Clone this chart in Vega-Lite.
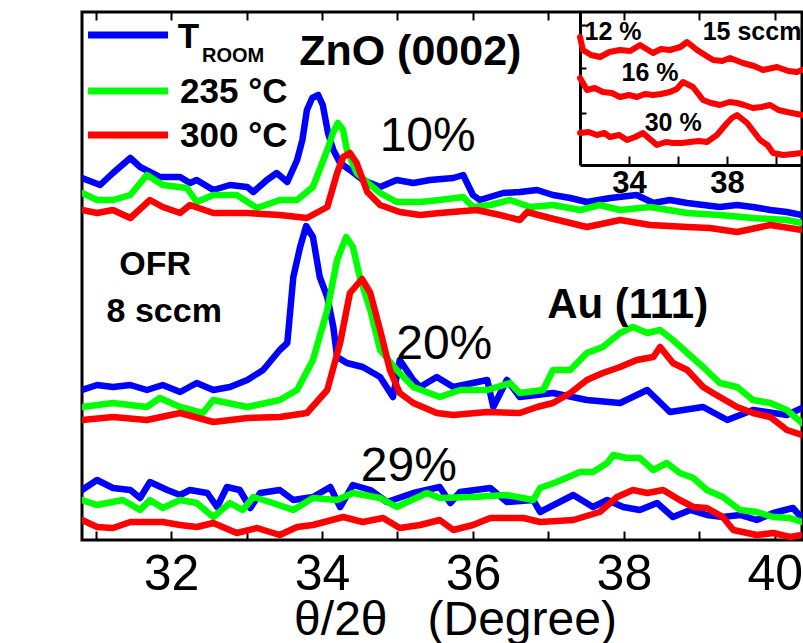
{
"$schema":"https://vega.github.io/schema/vega-lite/v6.json",
"width":720,"height":528,"autosize":"none",
"padding":{"left":82,"top":12,"right":1,"bottom":103},
"background":"white",
"config":{"view":{"stroke":"black","strokeWidth":3},"font":"Liberation Sans","text":{"color":"black","font":"Liberation Sans"}},
"datasets":{
"rt":[
{"g":"10","x":30.82,"y":362},{"g":"10","x":31.06,"y":355},{"g":"10","x":31.23,"y":367},{"g":"10","x":31.46,"y":382},{"g":"10","x":31.59,"y":373},{"g":"10","x":31.85,"y":363},{"g":"10","x":32.12,"y":363},{"g":"10","x":32.25,"y":357},{"g":"10","x":32.34,"y":360},{"g":"10","x":32.56,"y":350},{"g":"10","x":32.78,"y":355},{"g":"10","x":33.01,"y":353},{"g":"10","x":33.09,"y":348},{"g":"10","x":33.27,"y":360},{"g":"10","x":33.40,"y":367},{"g":"10","x":33.54,"y":358},{"g":"10","x":33.67,"y":380},{"g":"10","x":33.74,"y":400},{"g":"10","x":33.80,"y":430},{"g":"10","x":33.87,"y":442},{"g":"10","x":33.95,"y":445},{"g":"10","x":34.01,"y":435},{"g":"10","x":34.08,"y":407},{"g":"10","x":34.15,"y":390},{"g":"10","x":34.24,"y":377},{"g":"10","x":34.37,"y":370},{"g":"10","x":34.54,"y":360},{"g":"10","x":34.77,"y":353},{"g":"10","x":34.99,"y":360},{"g":"10","x":35.21,"y":357},{"g":"10","x":35.43,"y":360},{"g":"10","x":35.74,"y":362},{"g":"10","x":35.87,"y":365},{"g":"10","x":36.00,"y":345},{"g":"10","x":36.09,"y":340},{"g":"10","x":36.40,"y":347},{"g":"10","x":36.62,"y":348},{"g":"10","x":36.85,"y":350},{"g":"10","x":37.06,"y":345},{"g":"10","x":37.29,"y":342},{"g":"10","x":37.51,"y":338},{"g":"10","x":37.82,"y":342},{"g":"10","x":38.17,"y":345},{"g":"10","x":38.39,"y":337},{"g":"10","x":38.61,"y":340},{"g":"10","x":38.84,"y":337},{"g":"10","x":39.27,"y":333},{"g":"10","x":39.50,"y":335},{"g":"10","x":39.71,"y":333},{"g":"10","x":39.94,"y":330},{"g":"10","x":40.16,"y":328},{"g":"10","x":40.36,"y":325},
{"g":"20","x":30.82,"y":150},{"g":"20","x":31.02,"y":155},{"g":"20","x":31.23,"y":153},{"g":"20","x":31.46,"y":155},{"g":"20","x":31.68,"y":150},{"g":"20","x":31.89,"y":155},{"g":"20","x":32.12,"y":148},{"g":"20","x":32.34,"y":157},{"g":"20","x":32.56,"y":150},{"g":"20","x":32.78,"y":153},{"g":"20","x":33.01,"y":160},{"g":"20","x":33.22,"y":170},{"g":"20","x":33.44,"y":190},{"g":"20","x":33.54,"y":197},{"g":"20","x":33.62,"y":263},{"g":"20","x":33.71,"y":293},{"g":"20","x":33.79,"y":314},{"g":"20","x":33.88,"y":303},{"g":"20","x":33.97,"y":263},{"g":"20","x":34.07,"y":243},{"g":"20","x":34.15,"y":213},{"g":"20","x":34.20,"y":183},{"g":"20","x":34.33,"y":177},{"g":"20","x":34.54,"y":173},{"g":"20","x":34.77,"y":163},{"g":"20","x":34.94,"y":143},{"g":"20","x":35.03,"y":180},{"g":"20","x":35.21,"y":160},{"g":"20","x":35.30,"y":153},{"g":"20","x":35.52,"y":163},{"g":"20","x":35.74,"y":153},{"g":"20","x":36.19,"y":160},{"g":"20","x":36.27,"y":133},{"g":"20","x":36.45,"y":160},{"g":"20","x":36.62,"y":143},{"g":"20","x":37.06,"y":147},{"g":"20","x":37.51,"y":140},{"g":"20","x":37.95,"y":137},{"g":"20","x":38.31,"y":150},{"g":"20","x":38.61,"y":128},{"g":"20","x":39.05,"y":133},{"g":"20","x":39.37,"y":120},{"g":"20","x":39.71,"y":130},{"g":"20","x":40.16,"y":125},{"g":"20","x":40.36,"y":132},
{"g":"29","x":30.82,"y":50},{"g":"29","x":31.02,"y":60},{"g":"29","x":31.23,"y":52},{"g":"29","x":31.46,"y":50},{"g":"29","x":31.59,"y":42},{"g":"29","x":31.72,"y":58},{"g":"29","x":31.95,"y":50},{"g":"29","x":32.12,"y":45},{"g":"29","x":32.25,"y":50},{"g":"29","x":32.48,"y":47},{"g":"29","x":32.61,"y":33},{"g":"29","x":32.74,"y":53},{"g":"29","x":32.91,"y":50},{"g":"29","x":33.05,"y":32},{"g":"29","x":33.18,"y":47},{"g":"29","x":33.44,"y":50},{"g":"29","x":33.62,"y":40},{"g":"29","x":33.88,"y":43},{"g":"29","x":34.11,"y":53},{"g":"29","x":34.24,"y":33},{"g":"29","x":34.41,"y":55},{"g":"29","x":34.64,"y":50},{"g":"29","x":34.86,"y":38},{"g":"29","x":35.21,"y":47},{"g":"29","x":35.56,"y":53},{"g":"29","x":35.70,"y":37},{"g":"29","x":35.83,"y":48},{"g":"29","x":36.23,"y":52},{"g":"29","x":36.45,"y":38},{"g":"29","x":36.80,"y":40},{"g":"29","x":36.89,"y":28},{"g":"29","x":37.33,"y":45},{"g":"29","x":37.59,"y":33},{"g":"29","x":37.78,"y":40},{"g":"29","x":37.99,"y":33},{"g":"29","x":38.21,"y":30},{"g":"29","x":38.44,"y":37},{"g":"29","x":38.65,"y":23},{"g":"29","x":38.88,"y":30},{"g":"29","x":39.10,"y":25},{"g":"29","x":39.31,"y":23},{"g":"29","x":39.54,"y":25},{"g":"29","x":39.76,"y":20},{"g":"29","x":39.98,"y":27},{"g":"29","x":40.24,"y":32},{"g":"29","x":40.36,"y":22}
],
"t235":[
{"g":"10","x":30.82,"y":347},{"g":"10","x":31.02,"y":340},{"g":"10","x":31.23,"y":340},{"g":"10","x":31.46,"y":345},{"g":"10","x":31.68,"y":365},{"g":"10","x":31.89,"y":355},{"g":"10","x":32.21,"y":352},{"g":"10","x":32.34,"y":338},{"g":"10","x":32.56,"y":345},{"g":"10","x":32.87,"y":345},{"g":"10","x":33.14,"y":332},{"g":"10","x":33.44,"y":340},{"g":"10","x":33.67,"y":340},{"g":"10","x":33.88,"y":353},{"g":"10","x":34.07,"y":390},{"g":"10","x":34.15,"y":408},{"g":"10","x":34.21,"y":417},{"g":"10","x":34.28,"y":410},{"g":"10","x":34.33,"y":390},{"g":"10","x":34.46,"y":367},{"g":"10","x":34.64,"y":355},{"g":"10","x":34.77,"y":347},{"g":"10","x":34.99,"y":338},{"g":"10","x":35.30,"y":338},{"g":"10","x":35.56,"y":340},{"g":"10","x":35.87,"y":343},{"g":"10","x":36.00,"y":333},{"g":"10","x":36.23,"y":335},{"g":"10","x":36.49,"y":340},{"g":"10","x":36.76,"y":333},{"g":"10","x":37.06,"y":335},{"g":"10","x":37.42,"y":330},{"g":"10","x":37.68,"y":335},{"g":"10","x":37.95,"y":330},{"g":"10","x":38.35,"y":333},{"g":"10","x":38.84,"y":327},{"g":"10","x":39.27,"y":325},{"g":"10","x":39.71,"y":322},{"g":"10","x":40.16,"y":320},{"g":"10","x":40.36,"y":317},
{"g":"20","x":30.82,"y":133},{"g":"20","x":31.23,"y":137},{"g":"20","x":31.68,"y":133},{"g":"20","x":31.85,"y":142},{"g":"20","x":32.12,"y":133},{"g":"20","x":32.42,"y":127},{"g":"20","x":32.56,"y":140},{"g":"20","x":33.01,"y":133},{"g":"20","x":33.44,"y":140},{"g":"20","x":33.67,"y":150},{"g":"20","x":33.88,"y":180},{"g":"20","x":34.07,"y":230},{"g":"20","x":34.20,"y":280},{"g":"20","x":34.32,"y":303},{"g":"20","x":34.41,"y":293},{"g":"20","x":34.50,"y":263},{"g":"20","x":34.64,"y":230},{"g":"20","x":34.77,"y":190},{"g":"20","x":34.99,"y":170},{"g":"20","x":35.21,"y":153},{"g":"20","x":35.56,"y":143},{"g":"20","x":35.83,"y":150},{"g":"20","x":36.19,"y":150},{"g":"20","x":36.49,"y":157},{"g":"20","x":36.62,"y":147},{"g":"20","x":36.93,"y":150},{"g":"20","x":37.06,"y":170},{"g":"20","x":37.29,"y":170},{"g":"20","x":37.51,"y":187},{"g":"20","x":37.72,"y":193},{"g":"20","x":37.95,"y":207},{"g":"20","x":38.12,"y":213},{"g":"20","x":38.31,"y":207},{"g":"20","x":38.48,"y":210},{"g":"20","x":38.65,"y":200},{"g":"20","x":38.84,"y":187},{"g":"20","x":39.05,"y":173},{"g":"20","x":39.27,"y":157},{"g":"20","x":39.50,"y":153},{"g":"20","x":39.71,"y":140},{"g":"20","x":39.94,"y":137},{"g":"20","x":40.16,"y":130},{"g":"20","x":40.36,"y":117},
{"g":"29","x":30.82,"y":40},{"g":"29","x":31.02,"y":35},{"g":"29","x":31.36,"y":40},{"g":"29","x":31.59,"y":30},{"g":"29","x":31.72,"y":40},{"g":"29","x":31.89,"y":32},{"g":"29","x":32.12,"y":40},{"g":"29","x":32.34,"y":37},{"g":"29","x":32.56,"y":23},{"g":"29","x":32.78,"y":37},{"g":"29","x":32.95,"y":30},{"g":"29","x":33.09,"y":43},{"g":"29","x":33.35,"y":37},{"g":"29","x":33.62,"y":30},{"g":"29","x":33.88,"y":42},{"g":"29","x":34.20,"y":40},{"g":"29","x":34.41,"y":47},{"g":"29","x":34.77,"y":42},{"g":"29","x":34.99,"y":33},{"g":"29","x":35.39,"y":47},{"g":"29","x":35.56,"y":42},{"g":"29","x":36.00,"y":43},{"g":"29","x":36.45,"y":45},{"g":"29","x":36.80,"y":40},{"g":"29","x":36.89,"y":52},{"g":"29","x":37.11,"y":58},{"g":"29","x":37.42,"y":68},{"g":"29","x":37.59,"y":68},{"g":"29","x":37.78,"y":77},{"g":"29","x":37.86,"y":85},{"g":"29","x":38.04,"y":82},{"g":"29","x":38.21,"y":82},{"g":"29","x":38.39,"y":70},{"g":"29","x":38.57,"y":77},{"g":"29","x":38.74,"y":67},{"g":"29","x":38.92,"y":62},{"g":"29","x":39.10,"y":50},{"g":"29","x":39.31,"y":43},{"g":"29","x":39.54,"y":30},{"g":"29","x":39.76,"y":28},{"g":"29","x":39.98,"y":23},{"g":"29","x":40.20,"y":22},{"g":"29","x":40.36,"y":18}
],
"t300":[
{"g":"10","x":30.82,"y":330},{"g":"10","x":31.02,"y":327},{"g":"10","x":31.23,"y":330},{"g":"10","x":31.46,"y":322},{"g":"10","x":31.72,"y":340},{"g":"10","x":31.89,"y":333},{"g":"10","x":32.12,"y":327},{"g":"10","x":32.25,"y":335},{"g":"10","x":32.56,"y":327},{"g":"10","x":33.01,"y":327},{"g":"10","x":33.44,"y":325},{"g":"10","x":33.80,"y":322},{"g":"10","x":34.07,"y":333},{"g":"10","x":34.20,"y":367},{"g":"10","x":34.28,"y":383},{"g":"10","x":34.37,"y":387},{"g":"10","x":34.46,"y":377},{"g":"10","x":34.60,"y":348},{"g":"10","x":34.77,"y":335},{"g":"10","x":35.03,"y":328},{"g":"10","x":35.30,"y":325},{"g":"10","x":35.56,"y":327},{"g":"10","x":36.05,"y":330},{"g":"10","x":36.36,"y":325},{"g":"10","x":36.62,"y":320},{"g":"10","x":36.72,"y":328},{"g":"10","x":37.02,"y":322},{"g":"10","x":37.51,"y":313},{"g":"10","x":37.95,"y":320},{"g":"10","x":38.35,"y":315},{"g":"10","x":38.84,"y":313},{"g":"10","x":39.14,"y":312},{"g":"10","x":39.50,"y":308},{"g":"10","x":39.94,"y":315},{"g":"10","x":40.36,"y":310},
{"g":"20","x":30.82,"y":120},{"g":"20","x":31.23,"y":123},{"g":"20","x":31.68,"y":120},{"g":"20","x":32.12,"y":127},{"g":"20","x":32.56,"y":118},{"g":"20","x":33.01,"y":122},{"g":"20","x":33.44,"y":123},{"g":"20","x":33.80,"y":127},{"g":"20","x":34.07,"y":150},{"g":"20","x":34.24,"y":197},{"g":"20","x":34.37,"y":247},{"g":"20","x":34.53,"y":261},{"g":"20","x":34.64,"y":247},{"g":"20","x":34.77,"y":210},{"g":"20","x":34.90,"y":170},{"g":"20","x":35.03,"y":147},{"g":"20","x":35.21,"y":137},{"g":"20","x":35.52,"y":127},{"g":"20","x":35.74,"y":125},{"g":"20","x":36.19,"y":128},{"g":"20","x":36.62,"y":127},{"g":"20","x":36.85,"y":133},{"g":"20","x":37.06,"y":137},{"g":"20","x":37.29,"y":147},{"g":"20","x":37.51,"y":160},{"g":"20","x":37.72,"y":167},{"g":"20","x":37.95,"y":173},{"g":"20","x":38.17,"y":180},{"g":"20","x":38.39,"y":183},{"g":"20","x":38.48,"y":193},{"g":"20","x":38.65,"y":177},{"g":"20","x":38.84,"y":170},{"g":"20","x":39.05,"y":153},{"g":"20","x":39.18,"y":147},{"g":"20","x":39.50,"y":133},{"g":"20","x":39.71,"y":127},{"g":"20","x":39.94,"y":123},{"g":"20","x":40.16,"y":110},{"g":"20","x":40.36,"y":105},
{"g":"29","x":30.82,"y":20},{"g":"29","x":31.02,"y":13},{"g":"29","x":31.23,"y":12},{"g":"29","x":31.46,"y":18},{"g":"29","x":31.89,"y":18},{"g":"29","x":32.12,"y":15},{"g":"29","x":32.34,"y":13},{"g":"29","x":32.56,"y":17},{"g":"29","x":32.87,"y":7},{"g":"29","x":33.14,"y":12},{"g":"29","x":33.44,"y":5},{"g":"29","x":33.67,"y":13},{"g":"29","x":33.88,"y":15},{"g":"29","x":34.28,"y":23},{"g":"29","x":34.54,"y":18},{"g":"29","x":34.81,"y":22},{"g":"29","x":35.03,"y":12},{"g":"29","x":35.30,"y":15},{"g":"29","x":35.56,"y":20},{"g":"29","x":35.74,"y":10},{"g":"29","x":36.00,"y":15},{"g":"29","x":36.23,"y":22},{"g":"29","x":36.67,"y":22},{"g":"29","x":36.89,"y":18},{"g":"29","x":37.33,"y":20},{"g":"29","x":37.68,"y":28},{"g":"29","x":37.91,"y":43},{"g":"29","x":38.12,"y":50},{"g":"29","x":38.31,"y":47},{"g":"29","x":38.52,"y":50},{"g":"29","x":38.74,"y":40},{"g":"29","x":38.92,"y":33},{"g":"29","x":39.10,"y":32},{"g":"29","x":39.31,"y":23},{"g":"29","x":39.45,"y":10},{"g":"29","x":39.76,"y":5},{"g":"29","x":39.98,"y":7},{"g":"29","x":40.20,"y":3},{"g":"29","x":40.36,"y":5}
],
"inset":[
{"g":"12","x":32.0,"y":128},{"g":"12","x":32.12,"y":115},{"g":"12","x":32.45,"y":110},{"g":"12","x":32.82,"y":108},{"g":"12","x":33.2,"y":113},{"g":"12","x":33.63,"y":115},{"g":"12","x":34.05,"y":114},{"g":"12","x":34.45,"y":120},{"g":"12","x":34.98,"y":112},{"g":"12","x":35.3,"y":116},{"g":"12","x":35.67,"y":115},{"g":"12","x":36.1,"y":118},{"g":"12","x":36.37,"y":123},{"g":"12","x":36.78,"y":115},{"g":"12","x":37.1,"y":110},{"g":"12","x":37.43,"y":105},{"g":"12","x":37.8,"y":104},{"g":"12","x":38.12,"y":107},{"g":"12","x":38.65,"y":102},{"g":"12","x":39.1,"y":99},{"g":"12","x":39.47,"y":95},{"g":"12","x":40.04,"y":98},{"g":"12","x":40.5,"y":94},{"g":"12","x":40.86,"y":93},{"g":"12","x":41.06,"y":95},
{"g":"16","x":32.0,"y":87},{"g":"16","x":32.29,"y":75},{"g":"16","x":32.6,"y":77},{"g":"16","x":32.94,"y":73},{"g":"16","x":33.3,"y":72},{"g":"16","x":33.63,"y":68},{"g":"16","x":34.0,"y":70},{"g":"16","x":34.33,"y":68},{"g":"16","x":34.65,"y":71},{"g":"16","x":34.98,"y":70},{"g":"16","x":35.3,"y":71},{"g":"16","x":35.67,"y":73},{"g":"16","x":35.95,"y":76},{"g":"16","x":36.2,"y":83},{"g":"16","x":36.61,"y":78},{"g":"16","x":37.02,"y":65},{"g":"16","x":37.35,"y":62},{"g":"16","x":37.71,"y":60},{"g":"16","x":38.1,"y":63},{"g":"16","x":38.41,"y":62},{"g":"16","x":38.7,"y":60},{"g":"16","x":39.06,"y":57},{"g":"16","x":39.4,"y":58},{"g":"16","x":39.76,"y":60},{"g":"16","x":40.1,"y":55},{"g":"16","x":40.45,"y":53},{"g":"16","x":41.06,"y":50},
{"g":"30","x":32.0,"y":32},{"g":"30","x":32.35,"y":33},{"g":"30","x":32.69,"y":30},{"g":"30","x":33.0,"y":32},{"g":"30","x":33.22,"y":28},{"g":"30","x":33.6,"y":30},{"g":"30","x":33.92,"y":25},{"g":"30","x":34.25,"y":28},{"g":"30","x":34.57,"y":32},{"g":"30","x":34.85,"y":26},{"g":"30","x":35.14,"y":20},{"g":"30","x":35.5,"y":23},{"g":"30","x":35.8,"y":22},{"g":"30","x":36.15,"y":22},{"g":"30","x":36.49,"y":23},{"g":"30","x":36.85,"y":24},{"g":"30","x":37.18,"y":23},{"g":"30","x":37.59,"y":30},{"g":"30","x":38.0,"y":42},{"g":"30","x":38.2,"y":47},{"g":"30","x":38.41,"y":50},{"g":"30","x":38.82,"y":42},{"g":"30","x":39.1,"y":33},{"g":"30","x":39.35,"y":25},{"g":"30","x":39.65,"y":20},{"g":"30","x":39.88,"y":12},{"g":"30","x":40.29,"y":10},{"g":"30","x":40.7,"y":11},{"g":"30","x":41.06,"y":12}
],
"legend":[
{"t":"T_ROOM","x":30.90,"x2":31.96,"y":505},
{"t":"235 °C","x":30.90,"x2":31.96,"y":449},
{"t":"300 °C","x":30.90,"x2":31.96,"y":405}
]
},
"layer":[
{
"encoding":{
"x":{"field":"x","type":"quantitative","scale":{"domain":[30.82,40.36],"nice":false,"zero":false},"axis":null},
"y":{"field":"y","type":"quantitative","scale":{"domain":[0,528],"nice":false,"zero":false},"axis":null}
},
"layer":[
{"data":{"name":"rt"},"mark":{"type":"line","stroke":"#0000ff","strokeWidth":6.5,"strokeJoin":"round","strokeCap":"round","clip":true},
"encoding":{
"x":{"field":"x","type":"quantitative","scale":{"domain":[30.82,40.36],"nice":false,"zero":false},
"axis":{"orient":"bottom","values":[31,32,33,34,35,36,37,38,39,40],"labelExpr":"datum.value % 2 == 0 ? datum.label : ''","domain":false,"grid":false,"ticks":true,"tickColor":"black","tickWidth":2,"tickSize":-9,"labelFontSize":50,"labelFont":"Liberation Sans","labelColor":"black","labelBaseline":"alphabetic","labelPadding":58,"labelFlush":false,"labelOverlap":false,"title":"θ/2θ\u00a0\u00a0\u00a0(Degree)","titleFont":"Liberation Sans","titleFontSize":48,"titleFontWeight":"normal","titleColor":"black","titleX":373,"titleY":94,"titleBaseline":"alphabetic","titleAlign":"center"}},
"y":{"field":"y","type":"quantitative","scale":{"domain":[0,528],"nice":false,"zero":false},
"axis":{"orient":"left","labels":false,"ticks":false,"domain":false,"grid":false,"title":"Intensity (a. u.)","titleFont":"Liberation Sans","titleFontSize":74,"titleFontWeight":"normal","titleColor":"black","titleAngle":-90,"titleX":-22,"titleY":285,"titleBaseline":"alphabetic","titleAlign":"center"}},
"detail":{"field":"g"}}},
{"data":{"name":"t235"},"mark":{"type":"line","stroke":"#00ff00","strokeWidth":6.5,"strokeJoin":"round","strokeCap":"round","clip":true},
"encoding":{
"x":{"field":"x","type":"quantitative","scale":{"domain":[30.82,40.36],"nice":false,"zero":false},
"axis":{"orient":"top","values":[31,32,33,34,35,36,37,38,39,40],"labels":false,"domain":false,"grid":false,"ticks":true,"tickColor":"black","tickWidth":2,"tickSize":-8,"title":null}},
"detail":{"field":"g"}}},
{"data":{"name":"t300"},"mark":{"type":"line","stroke":"#ff0000","strokeWidth":6.5,"strokeJoin":"round","strokeCap":"round","clip":true},
"encoding":{"detail":{"field":"g"}}},
{"data":{"name":"legend"},"mark":{"type":"rule","strokeWidth":7},
"encoding":{"x2":{"field":"x2"},"color":{"field":"t","type":"nominal","scale":{"domain":["T_ROOM","235 °C","300 °C"],"range":["#0000ff","#00ff00","#ff0000"]},"legend":null}}},
{"data":{"values":[{"x":32.09,"y":503,"t":"T"}]},"mark":{"type":"text","fontSize":35,"fontWeight":"bold","align":"left","baseline":"middle"},"encoding":{"text":{"field":"t"}}},
{"data":{"values":[{"x":32.41,"y":484,"t":"ROOM"}]},"mark":{"type":"text","fontSize":20,"fontWeight":"bold","align":"left","baseline":"middle"},"encoding":{"text":{"field":"t"}}},
{"data":{"values":[{"x":32.12,"y":448,"t":"235 °C"},{"x":32.12,"y":404,"t":"300 °C"}]},"mark":{"type":"text","fontSize":35,"fontWeight":"bold","align":"left","baseline":"middle"},"encoding":{"text":{"field":"t"}}},
{"data":{"values":[{"x":35.17,"y":488,"t":"ZnO (0002)"}]},"mark":{"type":"text","fontSize":43,"fontWeight":"bold","align":"center","baseline":"middle"},"encoding":{"text":{"field":"t"}}},
{"data":{"values":[{"x":38.05,"y":235,"t":"Au (111)"}]},"mark":{"type":"text","fontSize":42,"fontWeight":"bold","align":"center","baseline":"middle"},"encoding":{"text":{"field":"t"}}},
{"data":{"values":[{"x":31.79,"y":275,"t":"OFR"},{"x":31.91,"y":228,"t":"8 sccm"}]},"mark":{"type":"text","fontSize":34,"fontWeight":"bold","align":"center","baseline":"middle"},"encoding":{"text":{"field":"t"}}},
{"data":{"values":[{"x":35.40,"y":403,"t":"10%"},{"x":35.62,"y":195,"t":"20%"},{"x":35.15,"y":73,"t":"29%"}]},"mark":{"type":"text","fontSize":48,"fontWeight":"normal","align":"center","baseline":"middle"},"encoding":{"text":{"field":"t"}}}
],
"resolve":{"axis":{"x":"independent"}}
},
{
"encoding":{
"x":{"field":"x","type":"quantitative","scale":{"domain":[32,41.06],"range":[498,720],"nice":false,"zero":false},
"axis":{"orient":"bottom","offset":-375,"values":[34,36,38,40],"labelExpr":"datum.value == 34 || datum.value == 38 ? datum.label : ''","domain":true,"domainColor":"black","domainWidth":3,"grid":false,"ticks":true,"tickColor":"black","tickWidth":2,"tickSize":-9,"labelFontSize":31,"labelFontWeight":"bold","labelColor":"black","labelBaseline":"alphabetic","labelPadding":36,"labelFlush":false,"labelOverlap":false,"title":null}},
"y":{"field":"y","type":"quantitative","scale":{"domain":[0,153],"range":[153,0],"nice":false,"zero":false},
"axis":{"orient":"left","offset":-498,"values":[52,97,140],"labels":false,"domain":true,"domainColor":"black","domainWidth":3,"grid":false,"ticks":true,"tickColor":"black","tickWidth":2,"tickSize":-6,"title":null}}
},
"layer":[
{"data":{"name":"inset"},"mark":{"type":"line","stroke":"#ff0000","strokeWidth":6,"strokeJoin":"round","strokeCap":"round"},"encoding":{"detail":{"field":"g"}}},
{"data":{"values":[{"x":33.35,"y":133,"t":"12 %"},{"x":39.02,"y":133,"t":"15 sccm"},{"x":34.86,"y":92,"t":"16 %"},{"x":35.80,"y":42,"t":"30 %"}]},"mark":{"type":"text","fontSize":25,"fontWeight":"bold","align":"center","baseline":"middle"},"encoding":{"text":{"field":"t"}}}
]
}
],
"resolve":{"scale":{"x":"independent","y":"independent"},"axis":{"x":"independent","y":"independent"}}
}
